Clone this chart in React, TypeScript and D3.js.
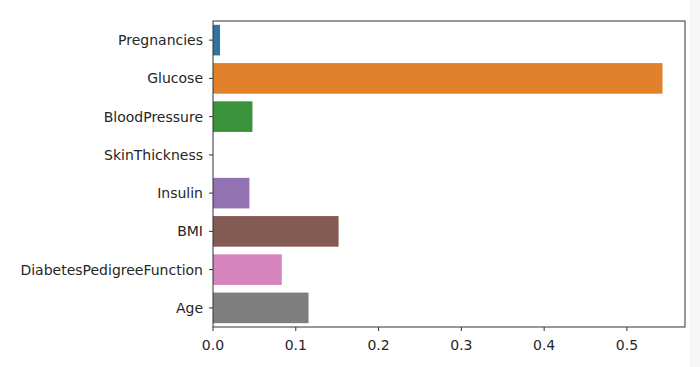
import React from "react";
import * as d3 from "d3";

const categories = [
  "Pregnancies",
  "Glucose",
  "BloodPressure",
  "SkinThickness",
  "Insulin",
  "BMI",
  "DiabetesPedigreeFunction",
  "Age",
];
const values = [0.0085, 0.543, 0.0476, 0.0, 0.044, 0.1517, 0.0831, 0.1154];
const colors = ["#3274a1", "#e1812c", "#3a923a", "#c03d3e", "#9372b2", "#845b53", "#d684bd", "#7f7f7f"];
const xTicks = [0, 0.1, 0.2, 0.3, 0.4, 0.5];

const W = 700;
const H = 367;
const left = 213;
const right = 685;
const top = 21;
const bottom = 327;

export default function App() {
  const xMax = d3.max(values)! * 1.05;
  const x = d3.scaleLinear().domain([0, xMax]).range([left, right]);
  const y = d3
    .scaleBand<string>()
    .domain(categories)
    .range([top, bottom])
    .paddingInner(0.2)
    .paddingOuter(0.1);
  const band = d3.scaleBand<string>().domain(categories).range([top, bottom]);
  const font = "'DejaVu Sans', sans-serif";
  const textColor = "#262626";
  return (
    <svg
      width={W}
      height={H}
      style={{ position: "absolute", left: 0, top: 0, display: "block" }}
      fontFamily={font}
    >
      <rect x={0} y={0} width={W} height={H} fill="#ffffff" />
      <rect x={690} y={0} width={10} height={H} fill="#f7f7f7" />
      {categories.map((c, i) => (
        <rect
          key={c}
          x={x(0)}
          y={y(c)!}
          width={Math.max(0, x(values[i]) - x(0))}
          height={y.bandwidth()}
          fill={colors[i]}
        />
      ))}
      <rect
        x={left}
        y={top}
        width={right - left}
        height={bottom - top}
        fill="none"
        stroke="#333"
        strokeWidth={1}
      />
      {categories.map((c) => {
        const cy = band(c)! + band.bandwidth() / 2;
        return (
          <g key={c}>
            <line x1={left - 4} x2={left} y1={cy} y2={cy} stroke="#333" />
            <text
              x={left - 10}
              y={cy}
              textAnchor="end"
              dominantBaseline="central"
              fontSize={14}
              fill={textColor}
            >
              {c}
            </text>
          </g>
        );
      })}
      {xTicks.map((t) => (
        <g key={t}>
          <line x1={x(t)} x2={x(t)} y1={bottom} y2={bottom + 4} stroke="#333" />
          <text
            x={x(t)}
            y={bottom + 18}
            textAnchor="middle"
            dominantBaseline="central"
            fontSize={14}
            fill={textColor}
          >
            {t.toFixed(1)}
          </text>
        </g>
      ))}
    </svg>
  );
}
